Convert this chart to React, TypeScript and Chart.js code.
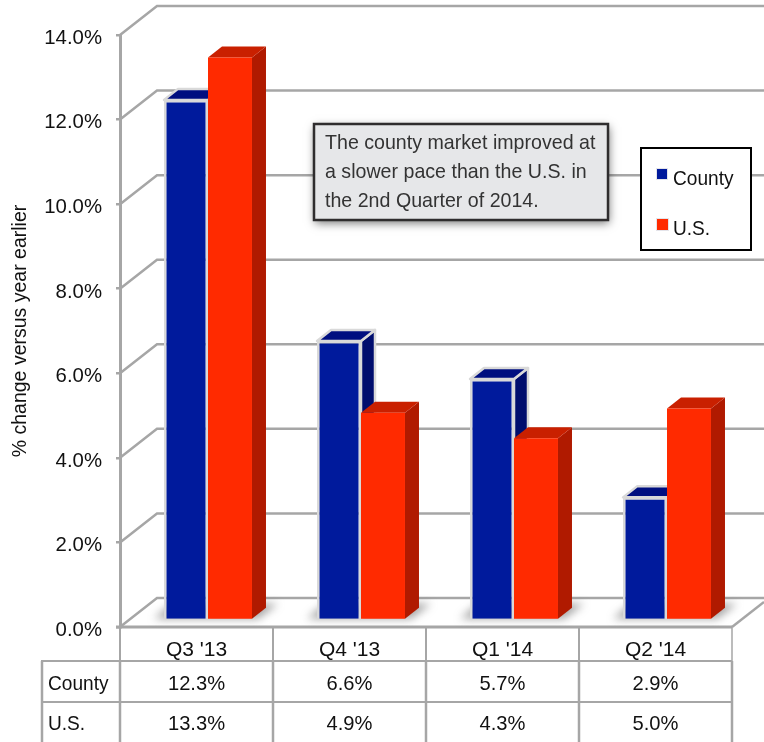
import React, { useEffect, useRef } from "react";
import { Chart, registerables } from "chart.js";

Chart.register(...registerables);

const quarters = ["Q3 '13", "Q4 '13", "Q1 '14", "Q2 '14"];
const countyValues = [12.3, 6.6, 5.7, 2.9];
const usValues = [13.3, 4.9, 4.3, 5.0];
const calloutLines = [
  "The county market improved at",
  "a slower pace than the U.S. in",
  "the 2nd Quarter of 2014.",
];

const FONT = '"Liberation Sans", sans-serif';
const GRID = "#a6a6a6";
const WALL = { dx: 37, dy: -29 };
const BAR_SHIFT = { dx: 11.5, dy: -7 };
const DEPTH = { dx: 14, dy: -11 };
const faces = [
  { front: "#001a9c", top: "#000f80", side: "#000d6e", edge: "#d9d9d9" },
  { front: "#ff2a00", top: "#c92000", side: "#b01a00", edge: null },
];

const line = (ctx: any, pts: number[][], color: string, width: number) => {
  ctx.strokeStyle = color;
  ctx.lineWidth = width;
  ctx.beginPath();
  pts.forEach(([x, y], i) => (i ? ctx.lineTo(x, y) : ctx.moveTo(x, y)));
  ctx.stroke();
};

const poly = (ctx: any, pts: number[][], fill: string, edge?: string | null) => {
  ctx.beginPath();
  pts.forEach(([x, y], i) => (i ? ctx.lineTo(x, y) : ctx.moveTo(x, y)));
  ctx.closePath();
  ctx.fillStyle = fill;
  ctx.fill();
  if (edge) {
    ctx.strokeStyle = edge;
    ctx.lineWidth = 2.5;
    ctx.lineJoin = "round";
    ctx.stroke();
  }
};

// Horizontally condensed text, since no narrow face is available.
const narrowText = (ctx: any, text: string, x: number, y: number, squeeze: number) => {
  ctx.save();
  ctx.translate(x, y);
  ctx.scale(squeeze, 1);
  ctx.fillText(text, 0, 0);
  ctx.restore();
};

// Back wall, floor, value-axis labels and the data table below the plot.
const framePlugin = {
  id: "frame",
  beforeDatasetsDraw(chart: any) {
    const { ctx, chartArea, scales } = chart;
    const { left, right, bottom } = chartArea;
    const canvasRight = chart.width;
    ctx.save();
    ctx.lineCap = "butt";
    scales.y.ticks.forEach((t: any) => {
      const y = scales.y.getPixelForValue(t.value);
      line(ctx, [[left, y], [left + WALL.dx, y + WALL.dy], [canvasRight, y + WALL.dy]], GRID, 2.5);
    });
    line(ctx, [[right, bottom], [canvasRight, bottom - 25]], GRID, 2.5);
    line(ctx, [[left - 4, bottom], [right, bottom]], GRID, 3);

    // Table rules
    const rowTop = 661;
    const rowMid = 702;
    const tableEnd = chart.height;
    const step = (right - left) / quarters.length;
    for (let i = 0; i <= quarters.length; i++) {
      const x = left + step * i;
      line(ctx, [[x, bottom], [x, rowTop]], GRID, i === quarters.length ? 1.5 : 2);
      line(ctx, [[x, rowTop], [x, tableEnd]], GRID, 2.5);
    }
    line(ctx, [[42, rowTop], [42, tableEnd]], GRID, 2.5);
    line(ctx, [[41, rowTop], [right, rowTop]], GRID, 2);
    line(ctx, [[41, rowMid], [right, rowMid]], GRID, 2);

    ctx.fillStyle = "#111";
    ctx.font = `21px ${FONT}`;
    ctx.textBaseline = "middle";

    // Value-axis labels
    ctx.textAlign = "right";
    scales.y.ticks.forEach((t: any) => {
      narrowText(ctx, t.label, 102, scales.y.getPixelForValue(t.value) + 3, 0.97);
    });

    // Table text
    ctx.textAlign = "left";
    narrowText(ctx, "County", 48, 684, 0.91);
    narrowText(ctx, "U.S.", 48, 724, 0.91);
    ctx.textAlign = "center";
    quarters.forEach((_, i) => {
      const x = scales.x.getPixelForValue(i);
      narrowText(ctx, `${countyValues[i].toFixed(1)}%`, x, 684, 0.96);
      narrowText(ctx, `${usValues[i].toFixed(1)}%`, x, 724, 0.96);
    });
    ctx.restore();
  },
};

// Extruded bars: shadow, side and top faces, then the bar element as the front face.
const bars3dPlugin = {
  id: "bars3d",
  beforeDatasetDraw() {
    return false;
  },
  afterDatasetsDraw(chart: any) {
    const { ctx } = chart;
    const metas = [chart.getDatasetMeta(0), chart.getDatasetMeta(1)];
    ctx.save();
    ctx.translate(BAR_SHIFT.dx, BAR_SHIFT.dy);

    quarters.forEach((_, i) => {
      const a = metas[0].data[i];
      const b = metas[1].data[i];
      const l = a.x - a.width / 2;
      const r = b.x + b.width / 2;
      const base = a.base;
      ctx.save();
      ctx.filter = "blur(4px)";
      poly(ctx, [[l - 10, base], [r + 6, base], [r + 26, base - 15], [l + 8, base - 15]], "rgba(90,90,90,0.55)");
      ctx.restore();
    });

    quarters.forEach((_, i) => {
      metas.forEach((meta, d) => {
        const el = meta.data[i];
        const l = el.x - el.width / 2;
        const r = el.x + el.width / 2;
        const { y, base } = el;
        const c = faces[d];
        poly(ctx, [[r, y], [r + DEPTH.dx, y + DEPTH.dy], [r + DEPTH.dx, base + DEPTH.dy], [r, base]], c.side, c.edge);
        poly(ctx, [[l, y], [l + DEPTH.dx, y + DEPTH.dy], [r + DEPTH.dx, y + DEPTH.dy], [r, y]], c.top, c.edge);
        el.draw(ctx);
      });
    });
    ctx.restore();
  },
};

// Callout and legend sit above the plot.
const overlayPlugin = {
  id: "overlay",
  afterDraw(chart: any) {
    const { ctx, data } = chart;
    ctx.save();
    ctx.shadowColor = "rgba(0,0,0,0.55)";
    ctx.shadowBlur = 9;
    ctx.shadowOffsetX = 1;
    ctx.shadowOffsetY = 3;
    ctx.fillStyle = "#e6e7e9";
    ctx.fillRect(314, 124, 294, 96);
    ctx.shadowColor = "transparent";
    ctx.strokeStyle = "#2f2d2e";
    ctx.lineWidth = 2.5;
    ctx.strokeRect(314, 124, 294, 96);
    ctx.fillStyle = "#333";
    ctx.font = `21px ${FONT}`;
    ctx.textBaseline = "middle";
    ctx.textAlign = "left";
    calloutLines.forEach((t, i) => narrowText(ctx, t, 325, 143 + i * 29, 0.934));

    ctx.fillStyle = "#fff";
    ctx.fillRect(641, 148, 110, 102);
    ctx.strokeStyle = "#000";
    ctx.lineWidth = 2;
    ctx.strokeRect(641, 148, 110, 102);
    const rows = [
      { box: [657, 169, 10, 10], y: 179 },
      { box: [657, 219, 11, 11], y: 229 },
    ];
    rows.forEach((row, i) => {
      ctx.fillStyle = "#e4e4ea";
      ctx.fillRect(row.box[0] - 1, row.box[1] - 1, row.box[2] + 2, row.box[3] + 2);
      ctx.fillStyle = data.datasets[i].backgroundColor;
      ctx.fillRect(row.box[0], row.box[1], row.box[2], row.box[3]);
      ctx.fillStyle = "#111";
      narrowText(ctx, data.datasets[i].label, 673, row.y, 0.91);
    });
    ctx.restore();
  },
};

export default function App() {
  const ref = useRef<HTMLCanvasElement>(null);

  useEffect(() => {
    const chart = new Chart(ref.current as HTMLCanvasElement, {
      type: "bar",
      data: {
        labels: quarters,
        datasets: [
          {
            label: "County",
            data: countyValues,
            backgroundColor: faces[0].front,
            borderColor: "#d9d9d9",
            borderWidth: 2.5,
          },
          {
            label: "U.S.",
            data: usValues,
            backgroundColor: faces[1].front,
            borderWidth: 0,
          },
        ],
      },
      options: {
        responsive: false,
        animation: false,
        layout: { padding: { top: 35, right: 32, left: 0, bottom: 0 } },
        datasets: { bar: { barPercentage: 1, categoryPercentage: 0.575, clip: false } },
        plugins: { legend: { display: false }, tooltip: { enabled: false } },
        scales: {
          x: {
            afterFit: (s: any) => { s.height = 115; },
            grid: { display: false },
            border: { display: false },
            ticks: {
              color: "#111",
              padding: 3,
              maxRotation: 0,
              font: { family: FONT, size: 21 },
            },
          },
          y: {
            min: 0,
            max: 14,
            afterFit: (s: any) => { s.width = 120; },
            grid: { drawOnChartArea: false, color: GRID, lineWidth: 2.5, tickLength: 4 },
            border: { color: GRID, width: 3 },
            title: {
              display: true,
              text: "% change versus year earlier",
              color: "#111",
              font: { family: FONT, size: 19.5 },
              padding: { top: 9, bottom: 0 },
            },
            ticks: {
              display: false,
              stepSize: 2,
              callback: (v: any) => `${Number(v).toFixed(1)}%`,
            },
          },
        },
      } as any,
      plugins: [framePlugin, bars3dPlugin, overlayPlugin],
    });
    return () => chart.destroy();
  }, []);

  return (
    <div style={{ position: "absolute", left: 0, top: 0, width: 764, height: 742, overflow: "hidden", background: "#fff" }}>
      <canvas ref={ref} width={764} height={742} style={{ display: "block" }} />
    </div>
  );
}
